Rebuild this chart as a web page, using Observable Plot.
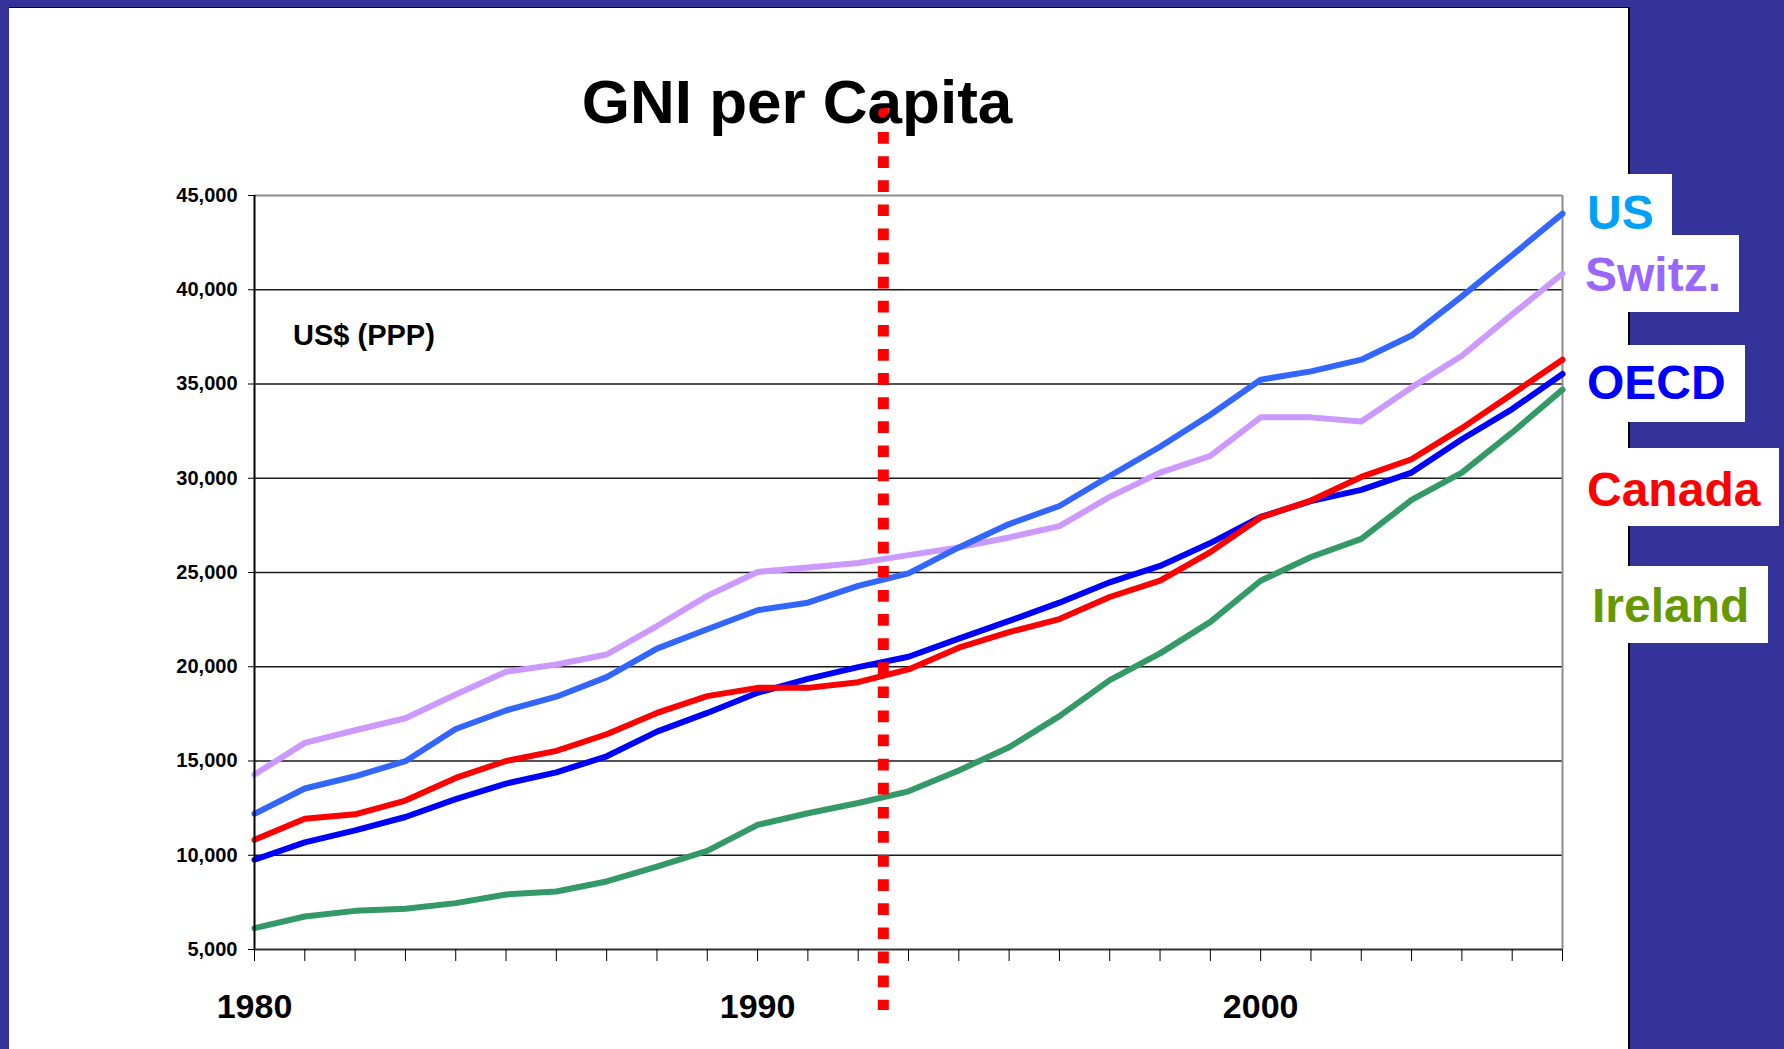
<!DOCTYPE html>
<html><head><meta charset="utf-8">
<script src="https://cdn.jsdelivr.net/npm/d3@7"></script>
<script src="https://cdn.jsdelivr.net/npm/@observablehq/plot@0.6"></script>
<style>
html,body{margin:0;padding:0;width:1784px;height:1049px;overflow:hidden;background:#333399;font-family:"Liberation Sans",Arial,sans-serif;color:#000;}
#slide{position:absolute;left:9px;top:7px;width:1619px;height:1042px;background:#fff;border-top:1px solid #000;border-right:2px solid #000;}
.box{position:absolute;background:#fff;left:1628px;}
#chart{position:absolute;left:0;top:0;}
.lbl{position:absolute;font-weight:bold;white-space:nowrap;line-height:1;}
</style></head><body>
<div id="slide"></div>
<div id="boxes"></div>
<div id="chart"></div>
<div id="texts"></div>
<script>
// ---- data ----
const years = [1980,1981,1982,1983,1984,1985,1986,1987,1988,1989,1990,1991,1992,1993,1994,1995,1996,1997,1998,1999,2000,2001,2002,2003,2004,2005,2006];
const usValues      = [12200,13540,14190,14990,16700,17680,18410,19450,20960,21990,23000,23400,24290,24950,26330,27570,28530,30120,31670,33370,35230,35670,36290,37570,39650,41830,44040];
const switzValues   = [14280,15960,16630,17270,18530,19730,20120,20650,22160,23760,25030,25260,25500,25920,26330,26860,27460,29010,30300,31190,33230,33230,33010,34820,36500,38690,40850];
const oecdValues    = [9760,10680,11320,12030,12980,13800,14400,15250,16560,17550,18620,19360,19980,20530,21490,22430,23400,24480,25350,26560,27950,28790,29380,30300,32070,33670,35530];
const canadaValues  = [10820,11940,12170,12900,14100,15000,15540,16420,17550,18440,18880,18880,19180,19860,21010,21840,22530,23700,24570,26080,27920,28820,30070,31010,32660,34470,36290];
const irelandValues = [6130,6750,7050,7160,7460,7920,8080,8610,9400,10230,11610,12230,12770,13390,14500,15730,17380,19290,20710,22380,24560,25820,26780,28850,30300,32430,34700];
const seriesNames  = ["Ireland","Switz.","US","OECD","Canada"];
const lineColors   = ["#339966","#CC99FF","#3366FF","#0000FF","#FF0000"];
const labelNames   = ["US","Switz.","OECD","Canada","Ireland"];
const labelColors  = ["#00A0F8","#9966FF","#0000FF","#FF0000","#669900"];
const yTicks = [5000,10000,15000,20000,25000,30000,35000,40000,45000];
const xLabelYears = [1980,1990,2000];
const markerYear = [1992.5];
const titleText = "GNI per Capita";
const unitText = "US$ (PPP)";

// ---- table ----
const valuesBySeries = {"US":usValues,"Switz.":switzValues,"OECD":oecdValues,"Canada":canadaValues,"Ireland":irelandValues};
const rows = [];
seriesNames.forEach(name => valuesBySeries[name].forEach((v,i) => rows.push({year: years[i], value: v, series: name})));

// ---- background label boxes (layout) ----
const boxLayout = [
  {top:174, w:44, h:61},
  {top:235, w:111, h:77},
  {top:345, w:117, h:77},
  {top:448, w:151, h:78},
  {top:566, w:140, h:77}
];
const boxes = document.getElementById("boxes");
boxLayout.forEach(b => {
  const d = document.createElement("div");
  d.className = "box";
  d.style.top = b.top + "px"; d.style.width = b.w + "px"; d.style.height = b.h + "px";
  boxes.appendChild(d);
});

// ---- chart ----
const chart = Plot.plot({
  width: 1784, height: 1049,
  marginLeft: 254, marginRight: 222, marginTop: 195, marginBottom: 100,
  style: {background: "transparent", fontFamily: "Liberation Sans, Arial, sans-serif", overflow: "visible", color: "black"},
  x: {domain: [1980, 2006]},
  y: {domain: [5000, 45000]},
  color: {domain: seriesNames, range: lineColors},
  marks: [
    Plot.ruleY(yTicks.filter(t => t !== 45000 && t !== 5000), {stroke: "#1a1a1a", strokeWidth: 1.3}),
    Plot.ruleY([45000], {stroke: "#8c8c8c", strokeWidth: 2}),
    Plot.ruleX([2006], {stroke: "#8c8c8c", strokeWidth: 2}),
    Plot.line(rows, {x: "year", y: "value", z: "series", stroke: "series", strokeWidth: 6, strokeLinejoin: "round"}),
    Plot.ruleX([1980], {stroke: "#000", strokeWidth: 2}),
    Plot.ruleY([5000], {stroke: "#333", strokeWidth: 2}),
    Plot.axisY({ticks: yTicks, tickSize: 6, tickPadding: 11, tickFormat: d3.format(","), fontSize: 20, fontWeight: "bold", label: null}),
    Plot.axisX({ticks: years, tickSize: 12, tickFormat: () => "", label: null}),
    Plot.axisX({ticks: xLabelYears, tickSize: 0, tickPadding: 44, tickFormat: d => String(d), fontSize: 34, fontWeight: "bold", label: null}),
    Plot.ruleX(markerYear, {stroke: "#FF0000", strokeWidth: 11, strokeDasharray: "11.7,12.4", insetTop: -87, insetBottom: -61})
  ]
});
document.getElementById("chart").appendChild(chart);

// ---- texts ----
const texts = document.getElementById("texts");
function addText(str, opts) {
  const d = document.createElement("div");
  d.className = "lbl";
  d.textContent = str;
  Object.assign(d.style, opts);
  texts.appendChild(d);
  return d;
}
addText(titleText, {left: "797px", top: "71px", fontSize: "62px", transform: "translateX(-50%)"});
addText(unitText, {left: "293px", top: "321px", fontSize: "29px"});
const labelLayout = [
  {left: 1587, top: 189},
  {left: 1585, top: 251},
  {left: 1587, top: 359},
  {left: 1587, top: 466},
  {left: 1592, top: 582}
];
labelNames.forEach((n, i) => addText(n, {left: labelLayout[i].left + "px", top: labelLayout[i].top + "px", fontSize: "48px", color: labelColors[i]}));
</script>
</body></html>
